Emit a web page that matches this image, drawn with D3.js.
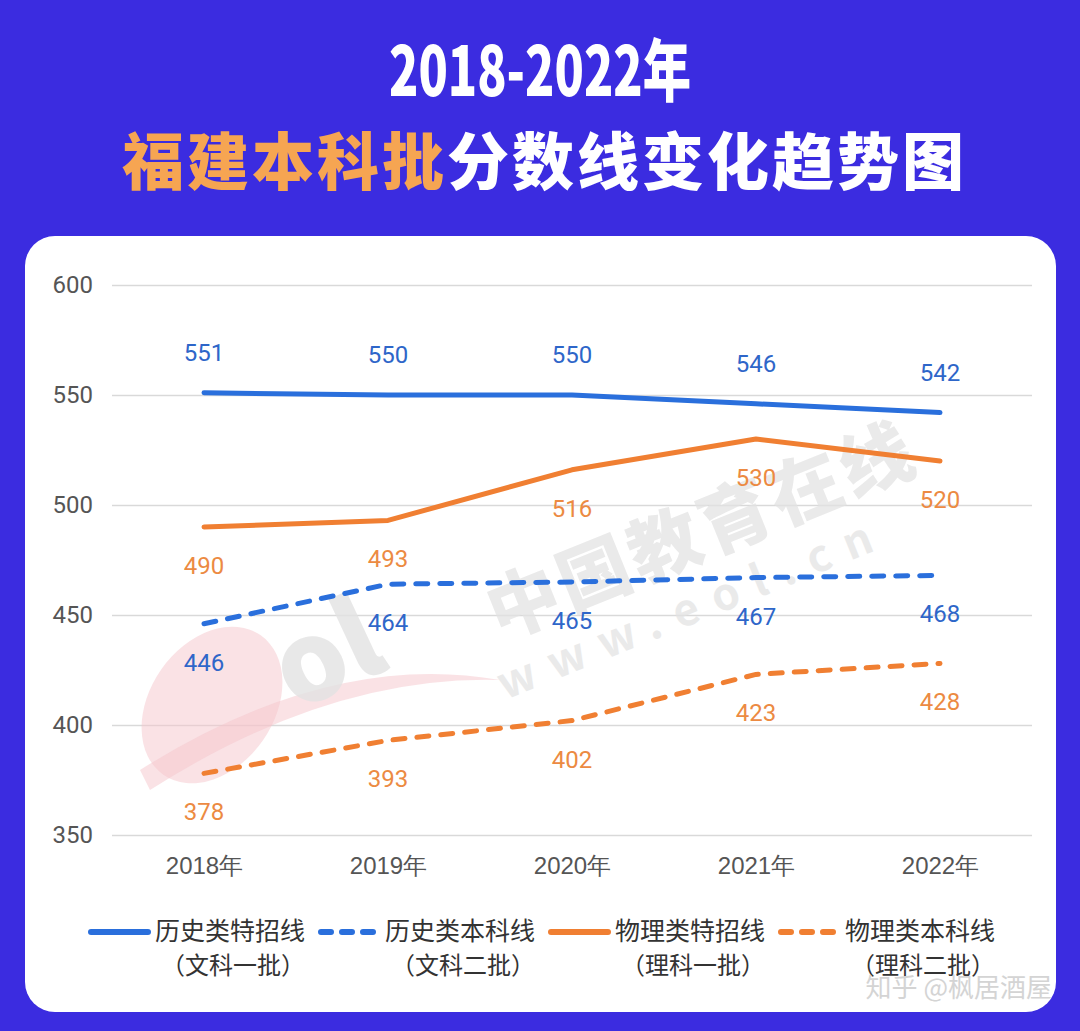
<!DOCTYPE html>
<html lang="zh">
<head>
<meta charset="UTF-8">
<title>2018-2022年福建本科批分数线变化趋势图</title>
<script src="https://d3js.org/d3.v7.min.js"></script>
<style>
  html, body { margin: 0; padding: 0; background: #3b2ce0; }
  svg { display: block; font-family: "PingFang SC", "Noto Sans CJK SC", "Noto Sans", sans-serif; }
</style>
</head>
<body>
<svg id="chart" width="1080" height="1031"></svg>
<script>
// 数据
const years = ["2018年", "2019年", "2020年", "2021年", "2022年"];
const histSpecial = [551, 550, 550, 546, 542];   // 历史类特招线
const histBachelor = [446, 464, 465, 467, 468];  // 历史类本科线
const physSpecial = [490, 493, 516, 530, 520];   // 物理类特招线
const physBachelor = [378, 393, 402, 423, 428];  // 物理类本科线
const yTicks = [350, 400, 450, 500, 550, 600];

const seriesNames = ["历史类特招线", "历史类本科线", "物理类特招线", "物理类本科线"];
const seriesNotes = ["（文科一批）", "（文科二批）", "（理科一批）", "（理科二批）"];

const blue = "#2a6fdc", orange = "#f07f32";
const series = [
  { values: histSpecial, color: blue, dash: null, label: "above" },
  { values: histBachelor, color: blue, dash: "12,12", label: "below" },
  { values: physSpecial, color: orange, dash: null, label: "below" },
  { values: physBachelor, color: orange, dash: "12,12", label: "below" }
];

const svg = d3.select("#chart");

// 标题
const title = svg.append("g").attr("font-weight", 900);
title.append("text")
  .attr("x", 540).attr("y", 96)
  .attr("text-anchor", "middle")
  .attr("font-size", 68)
  .attr("fill", "#fff")
  .attr("textLength", 302).attr("lengthAdjust", "spacingAndGlyphs")
  .text("2018-2022年");
const t2 = title.append("text")
  .attr("x", 122).attr("y", 185)
  .attr("font-size", 62)
  .attr("letter-spacing", 3);
t2.append("tspan").attr("fill", "#f6a552").text("福建本科批");
t2.append("tspan").attr("fill", "#fff").text("分数线变化趋势图");

// 白色卡片
svg.append("rect")
  .attr("x", 25).attr("y", 236)
  .attr("width", 1031).attr("height", 776)
  .attr("rx", 30)
  .attr("fill", "#fff");

// 比例尺
const x = d3.scalePoint().domain(years).range([112, 1032]).padding(0.5);
const y = d3.scaleLinear().domain([350, 600]).range([835, 285]);

// 网格线与y轴
const yAxis = svg.append("g")
  .attr("transform", "translate(112,0)")
  .call(d3.axisLeft(y).tickValues(yTicks).tickSize(-920).tickPadding(19));
yAxis.select(".domain").remove();
yAxis.selectAll(".tick line").attr("stroke", "#d9d9d9").attr("stroke-width", 1.5);
yAxis.selectAll(".tick text").attr("fill", "#555").attr("font-size", 24)
  .attr("font-family", "Roboto, 'Noto Sans', sans-serif");

// 水印
const wm = svg.append("g").attr("pointer-events", "none");
wm.append("ellipse")
  .attr("cx", 212).attr("cy", 705).attr("rx", 62).attr("ry", 85)
  .attr("transform", "rotate(35,212,705)")
  .attr("fill", "#f5c6cc").attr("opacity", 0.5);
wm.append("path")
  .attr("d", "M140,770 Q330,650 500,680 Q330,675 150,790 Z")
  .attr("fill", "#f5c6cc").attr("opacity", 0.5);
wm.append("text")
  .attr("x", 295).attr("y", 712)
  .attr("font-size", 110).attr("font-weight", 900)
  .attr("fill", "#e3e3e3").attr("opacity", 0.8)
  .attr("transform", "rotate(-25,295,712)")
  .text("ol");
wm.append("text")
  .attr("x", 500).attr("y", 640)
  .attr("font-size", 72).attr("font-weight", 900)
  .attr("fill", "#e3e3e3").attr("opacity", 0.75)
  .attr("transform", "rotate(-22,500,640)")
  .attr("letter-spacing", 4)
  .text("中国教育在线");
wm.append("text")
  .attr("x", 505).attr("y", 700)
  .attr("font-size", 44).attr("font-weight", 700)
  .attr("fill", "#e3e3e3").attr("opacity", 0.75)
  .attr("transform", "rotate(-22,505,700)")
  .attr("letter-spacing", 16)
  .text("www.eol.cn");

// x轴标签
svg.append("g")
  .attr("transform", "translate(0,835)")
  .call(d3.axisBottom(x).tickSize(0).tickPadding(22))
  .call(g => g.select(".domain").remove())
  .selectAll("text")
  .attr("fill", "#555").attr("font-size", 24);

// 折线
const line = d3.line()
  .x((d, i) => x(years[i]))
  .y(d => y(d));

series.forEach(s => {
  svg.append("path")
    .datum(s.values)
    .attr("d", line)
    .attr("fill", "none")
    .attr("stroke", s.color)
    .attr("stroke-width", 5)
    .attr("stroke-linecap", "round")
    .attr("stroke-linejoin", "round")
    .attr("stroke-dasharray", s.dash);
});

// 数值标签
series.forEach(s => {
  svg.append("g").selectAll("text")
    .data(s.values)
    .join("text")
    .attr("x", (d, i) => x(years[i]))
    .attr("y", d => y(d) + (s.label === "above" ? -32 : 47))
    .attr("text-anchor", "middle")
    .attr("font-size", 24)
    .attr("font-family", "Roboto, 'Noto Sans', sans-serif")
    .attr("fill", s.color === blue ? "#2e66c9" : "#ec8a42")
    .text(d => d);
});

// 图例
const legendX = [88, 318, 548, 778];
const legend = svg.append("g");
series.forEach((s, i) => {
  const g = legend.append("g").attr("transform", `translate(${legendX[i]},932)`);
  g.append("line")
    .attr("x1", 3).attr("x2", 60)
    .attr("stroke", s.color).attr("stroke-width", 6)
    .attr("stroke-linecap", "round")
    .attr("stroke-dasharray", s.dash ? "10,11" : null);
  g.append("text")
    .attr("x", 67).attr("y", 8)
    .attr("font-size", 25).attr("fill", "#333")
    .text(seriesNames[i]);
  g.append("text")
    .attr("x", 145).attr("y", 42)
    .attr("text-anchor", "middle")
    .attr("font-size", 24).attr("fill", "#333")
    .text(seriesNotes[i]);
});

// 右下角水印
svg.append("text")
  .attr("x", 1052).attr("y", 997)
  .attr("text-anchor", "end")
  .attr("font-size", 26)
  .attr("fill", "#d4d4d4")
  .text("知乎 @枫居酒屋");
</script>
</body>
</html>
